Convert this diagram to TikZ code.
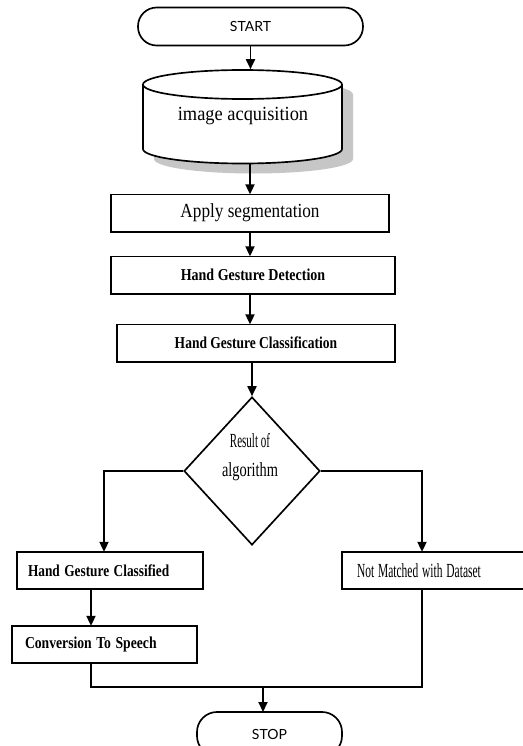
\documentclass[tikz,border=0pt]{standalone}
\usepackage{fontspec}
\setmainfont{Liberation Serif}
\newfontfamily\termfont{Lato}
\usetikzlibrary{shapes.geometric,arrows.meta}
\newcommand{\sqz}[2]{\scalebox{#1}[1]{#2}}
\begin{document}
\begin{tikzpicture}[x=0.75pt,y=-0.75pt,
  line width=1.25pt,
  arr/.style={-{Triangle[length=7.5pt,width=6.8pt]}},
  box/.style={draw, rectangle, minimum height=28pt, inner sep=0pt, outer sep=0pt},
  lbox/.style={box, align=left, inner xsep=#1},
  term/.style={draw, rectangle, inner sep=0pt, outer sep=0pt, font=\termfont\fontsize{10.5}{12}\selectfont},
  regf/.style={font=\fontsize{15}{17}\selectfont},
  boldf/.style={font=\fontsize{12.5}{15}\selectfont\bfseries},
  condf/.style={font=\fontsize{15}{21.75}\selectfont}]
\useasboundingbox (0,0) rectangle (523,746);
\clip (0,0) rectangle (523,746);
\fill[white] (0,0) rectangle (523,746);

% START
\node[term, rounded corners=14pt, minimum width=168.75pt, minimum height=28.5pt] (start) at (250.5,26.5) {START};

% cylinder (image acquisition)
\begin{scope}[shift={(11,10)}]
  \fill[gray!45] (143,149) -- (143,84.5) arc[start angle=180,end angle=0,x radius=74.625pt,y radius=10.875pt]
    -- (342,149) arc[start angle=0,end angle=-180,x radius=74.625pt,y radius=10.875pt] -- cycle;
\end{scope}
\filldraw[fill=white] (143,84.5) -- (143,149) arc[start angle=180,end angle=360,x radius=74.625pt,y radius=10.875pt] -- (342,84.5);
\filldraw[fill=white] (242.5,84.5) ellipse [x radius=74.625pt, y radius=10.875pt];
\node[inner sep=0pt, minimum width=149.25pt, minimum height=70.1pt, regf] (acq) at (242.5,116.75) {};
\node[regf] (acqtext) at (243,116) {\sqz{0.92}{image acquisition}};

% process boxes
\node[box, minimum width=208.5pt, regf] (seg) at (250,213) {\sqz{0.86}{Apply segmentation}};
\node[box, minimum width=213pt, boldf] (det) at (253,275) {\sqz{0.84}{Hand Gesture Detection}};
\node[box, minimum width=208.5pt, boldf] (cls) at (256,343) {\sqz{0.81}{Hand Gesture Classification}};

% decision
\node[draw, diamond, inner sep=0pt, minimum width=102pt, minimum height=111pt] (dia) at (252,471) {};
\node[condf, align=center, inner sep=0pt] (diatext) at (250,457) {\sqz{0.55}{Result of}\\\sqz{0.72}{algorithm}};

% branches
\node[lbox=8.25pt, text width=123pt, boldf] (cf) at (110,570.5) {\sqz{0.80}{Hand Gesture Classified}};
\node[lbox=9.75pt, text width=119.25pt, boldf] (cv) at (104.5,644.5) {\sqz{0.82}{Conversion To Speech}};
\node[lbox=11.25pt, text width=126pt, condf] (nm) at (441,570.5) {\sqz{0.575}{Not Matched with Dataset}};

% STOP
\node[term, rounded corners=15pt, minimum width=108.75pt, minimum height=33pt] (stop) at (269.5,734) {STOP};

% connectors
\coordinate (lb) at (104,0);
\coordinate (rb) at (422,0);
\coordinate (cb) at (91,0);
\coordinate (mg) at (263,687);
\draw[arr] (start.south) -- (start.south |- acq.north);
\draw[arr] (acq.south -| seg.north) -- (seg.north);
\draw[arr] (seg.south) -- (seg.south |- det.north);
\draw[arr] (seg.south |- det.south) -- (seg.south |- cls.north);
\draw[arr] (cls.south -| dia.north) -- (dia.north);
\draw[arr] (dia.west) -| (lb |- cf.north);
\draw[arr] (dia.east) -| (rb |- nm.north);
\draw[arr] (cb |- cf.south) -- (cb |- cv.north);
\draw (cb |- cv.south) |- (mg) -| (rb |- nm.south);
\draw[arr] (mg) -- (mg |- stop.north);
\end{tikzpicture}
\end{document}
